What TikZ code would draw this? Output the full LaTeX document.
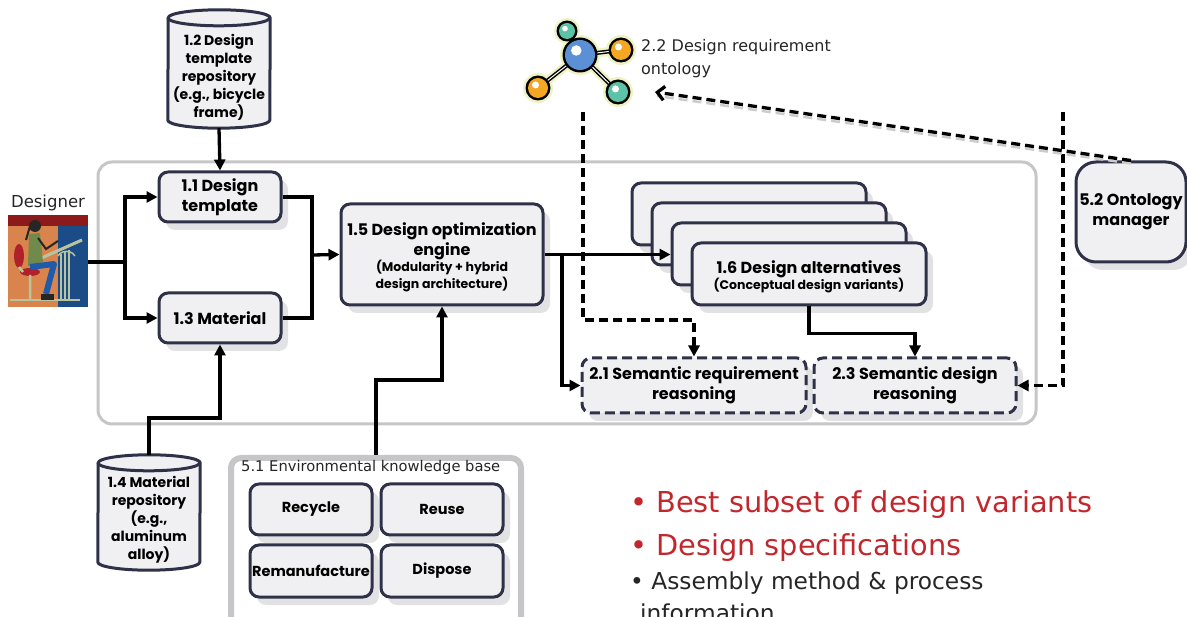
\documentclass[tikz,border=0pt]{standalone}
\usepackage{fontspec}
\setmainfont{DejaVu Sans}
\newfontfamily\boxfont{Poppins}
\usetikzlibrary{arrows.meta}
\usetikzlibrary{calc}
\usetikzlibrary{shadows}
\usepackage{xcolor}

\definecolor{boxline}{HTML}{2E3148}
\definecolor{boxfill}{HTML}{F0F0F2}
\definecolor{framegray}{HTML}{C6C6C8}
\definecolor{shade}{HTML}{E2E2E5}
\definecolor{bulletred}{HTML}{C1272D}
\definecolor{glow}{HTML}{EEF2C4}
\definecolor{ballblue}{HTML}{5B8FD6}
\definecolor{ballteal}{HTML}{5CC3A6}
\definecolor{ballorange}{HTML}{F5A623}
\definecolor{bandred}{HTML}{8C1A1A}
\definecolor{wallorange}{HTML}{D9844C}
\definecolor{wallblue}{HTML}{1B4C88}
\definecolor{tablegreen}{HTML}{B7C49E}
\definecolor{shirtgreen}{HTML}{6F8A4A}
\definecolor{chairred}{HTML}{B0222A}
\definecolor{legblue}{HTML}{1F5BA8}

\newcommand\subtxt{\fontsize{12.5}{15}\selectfont}

\tikzset{
  box/.style={draw=boxline, fill=boxfill, line width=3pt, rounded corners=9pt,
    align=center, inner sep=2pt,
    font=\boxfont\bfseries\fontsize{16}{20}\selectfont,
    drop shadow={shadow xshift=7pt, shadow yshift=-8pt, fill=shade, opacity=1}},
  envbox/.style={box, font=\boxfont\bfseries\fontsize{14.5}{18}\selectfont},
  dbox/.style={box, dash pattern=on 10pt off 5pt},
  link/.style={line width=3.3pt},
  flow/.style={link, -{Triangle[length=11pt,width=11pt]}},
  dflow/.style={flow, dash pattern=on 9pt off 5pt},
  cylbody/.style={minimum width=102pt, inner sep=0pt},
  cylline/.style={draw=boxline, fill=boxfill, line width=3pt},
  cyltext/.style={align=center, inner sep=0pt,
    font=\boxfont\bfseries\fontsize{14}{18}\selectfont},
  frame/.style={draw=framegray, line width=3pt, rounded corners=14pt},
  plain/.style={inner sep=0pt, text=black!85}
}

\begin{document}
\begin{tikzpicture}[x=1pt, y=-1pt]
\useasboundingbox (0,0) rectangle (1187,617);

% System frame
\draw[frame] (98,162) rectangle (1036,424);

% Designer at the drawing board
\node[plain, font=\fontsize{16.5}{18}\selectfont] (designerlbl) at (48,203) {Designer};
\fill[bandred] (8,215) rectangle (88,226);
\fill[wallorange] (8,226) rectangle (58,307);
\fill[wallblue] (58,226) rectangle (88,307);
\draw[tablegreen, line width=2.5pt] (10,300) -- (80,300);
\draw[tablegreen, line width=1.5pt] (61,254) -- (61,299) (65,252) -- (65,299) (69,250) -- (69,299);
\draw[tablegreen, line width=1.5pt] (58,256) arc[start angle=200, end angle=340, x radius=9, y radius=7];
\draw[tablegreen, line width=3pt] (37,260) -- (82,240);
\fill[chairred] (19,256) ellipse (5 and 12);
\fill[chairred] (30,272) ellipse (10 and 4);
\draw[tablegreen, line width=2.5pt] (30,275) -- (30,299) (19,267) -- (23,272);
\fill[black!85] (35,226) circle (6);
\draw[black!85, line width=2pt] (30,226) -- (26,240);
\fill[shirtgreen] (29,234) -- (40,233) -- (43,262) -- (28,266) -- cycle;
\draw[legblue, line width=6pt, line join=round] (30,267) -- (54,264) -- (46,294);
\fill[black!85] (41,294) rectangle (54,300);
\draw[black!85, line width=2pt] (38,238) -- (46,249) -- (58,241);
\coordinate (designer) at (88,262);

% Template repository
\node[cylbody, minimum height=102pt] (tplrepo) at (219,69) {};
\filldraw[cylline] (tplrepo.south west) arc[start angle=180, end angle=0, x radius=51, y radius=8]
  -- (tplrepo.north east) arc[start angle=0, end angle=-180, x radius=51, y radius=8] -- cycle;
\draw[cylline, fill=none] (tplrepo.north west) arc[start angle=180, end angle=0, x radius=51, y radius=8];
\node[cyltext] (tplrepotxt) at (219,77) {1.2 Design\\template\\repository\\(e.g., bicycle\\frame)};

% Material repository
\node[cylbody, minimum height=99pt] (matrepo) at (149,512.5) {};
\filldraw[cylline] (matrepo.south west) arc[start angle=180, end angle=0, x radius=51, y radius=8]
  -- (matrepo.north east) arc[start angle=0, end angle=-180, x radius=51, y radius=8] -- cycle;
\draw[cylline, fill=none] (matrepo.north west) arc[start angle=180, end angle=0, x radius=51, y radius=8];
\node[cyltext] (matrepotxt) at (149,520) {1.4 Material\\repository\\(e.g.,\\aluminum\\alloy)};

% Design template and material
\node[box, minimum width=122pt, minimum height=50pt] (tpl) at (220,197) {1.1 Design\\template};
\node[box, minimum width=122pt, minimum height=50pt] (mat) at (220,318) {1.3 Material};

% Optimization engine
\node[box, minimum width=202pt, minimum height=101pt] (opt) at (442,254.5)
  {\rule{0pt}{19pt}1.5 Design optimization\\engine\\[-4pt]{\subtxt (Modularity + hybrid}\\[-3pt]{\subtxt design architecture)}};

% Stack of design alternatives
\foreach \n in {0,1,2}
  \node[box, minimum width=234pt, minimum height=62pt] (card\n) at ({749+20*\n},{214+20*\n}) {};
\node[box, minimum width=234pt, minimum height=62pt] (alt) at (809,274)
  {\rule{0pt}{19pt}1.6 Design alternatives\\[-4pt]{\subtxt (Conceptual design variants)}};

% Semantic reasoning
\node[dbox, minimum width=224pt, minimum height=55pt] (req) at (694,385.5) {2.1 Semantic requirement\\reasoning};
\node[dbox, minimum width=202pt, minimum height=55pt] (sem) at (915,385.5) {2.3 Semantic design\\reasoning};

% Ontology manager
\node[box, rounded corners=20pt, minimum width=110pt, minimum height=100pt] (mgr) at (1131,212) {5.2 Ontology\\manager};

% Ontology molecule
\foreach \bx/\by in {567/31, 621/50, 538/88, 618/92}
  \draw[glow, line width=9pt, line cap=round] (580,55) -- (\bx,\by);
\foreach \bx/\by/\r in {580/55/15, 567/31/8, 621/50/10, 538/88/10, 618/92/10}
  \fill[glow] (\bx,\by) circle ({\r+5});
\foreach \bx/\by in {567/31, 621/50, 538/88, 618/92} {
  \draw[black, line width=4pt] (580,55) -- (\bx,\by);
  \draw[white, line width=1pt] (580,55) -- (\bx,\by);
}
\foreach \bx/\by/\r/\c in {580/55/15/ballblue, 567/31/8/ballteal, 621/50/10/ballorange, 538/88/10/ballorange, 618/92/10/ballteal} {
  \fill[black] (\bx,\by) circle ({\r+2.5});
  \fill[\c] (\bx,\by) circle (\r);
  \fill[white] ({\bx-0.25*\r},{\by-0.3*\r}) circle ({0.35*\r});
}
\node[plain, anchor=west, align=left, font=\fontsize{16}{23}\selectfont] (ontlbl) at (641,59)
  {2.2 Design requirement\\ontology};
\coordinate (ontin) at (655,92);
\coordinate (onttail) at (583,112);
\coordinate (ontbend) at (583,320);
\coordinate (mgrtail) at (1063,112);

% Environmental knowledge base
\node[draw=framegray, fill=white, line width=6pt, rounded corners=10pt, minimum width=290pt,
  minimum height=200pt, anchor=north] (kb) at (376,455) {};
\node[plain, anchor=west, font=\fontsize{14.7}{18}\selectfont] (kblbl) at (241,467) {5.1 Environmental knowledge base};
\node[envbox, minimum width=122pt, minimum height=51pt] (recycle) at (311,509.5) {Recycle};
\node[envbox, minimum width=122pt, minimum height=51pt] (reuse) at (442,509.5) {Reuse};
\node[envbox, minimum width=122pt, minimum height=52pt] (reman) at (311,571) {Remanufacture};
\node[envbox, minimum width=122pt, minimum height=52pt] (dispose) at (442,571) {Dispose};

% Flows
\coordinate (split) at (125,262);
\coordinate (merge) at (312,255);
\coordinate (fork) at (562,254.5);
\draw[link] (designer) -- (split);
\draw[flow] (split) |- (tpl.west);
\draw[flow] (split) |- (mat.west);
\draw[flow] ($(tplrepo.south)+(0,8)$) -- (tpl.north);
\draw[flow] ($(matrepo.north)+(0,-8)$) -- (149,418) -| (mat.south);
\draw[link] (tpl.east) -| (merge);
\draw[link] (mat.east) -| (merge);
\draw[flow] (merge) -- (opt.west);
\draw[flow] (opt.east) -- (opt.east -| card2.west);
\draw[flow] (fork) |- (req.west);
\draw[flow] (alt.south) -- ++(0,27) -| (sem.north);
\draw[flow] (kb.north) -- (376,380) -| (opt.south);

% Ontology links
\draw[dflow] (onttail) -- (ontbend) -| (req.north);
\draw[dflow] (mgrtail) |- (sem.east);
\draw[black!20, line width=2.5pt, dash pattern=on 9pt off 5pt] ($(mgr.north)+(0,3)$) -- ($(ontin)+(2,4)$);
\draw[dflow, -{Straight Barb[length=7pt,width=14pt]}] (mgr.north) -- (ontin);

% Outcomes
\node[plain, anchor=base west, text=bulletred, font=\fontsize{28.8}{32}\selectfont] (best) at (630,513)
  {• Best subset of design variants};
\node[plain, anchor=base west, text=bulletred, font=\fontsize{28.8}{32}\selectfont] (spec) at (630,555)
  {• Design specifications};
\node[plain, anchor=base west, font=\fontsize{23.3}{31}\selectfont] (asm) at (630,590)
  {• Assembly method \& process};
\node[plain, anchor=base west, font=\fontsize{23.3}{31}\selectfont] (asminfo) at (640,621)
  {information};
\end{tikzpicture}
\end{document}
